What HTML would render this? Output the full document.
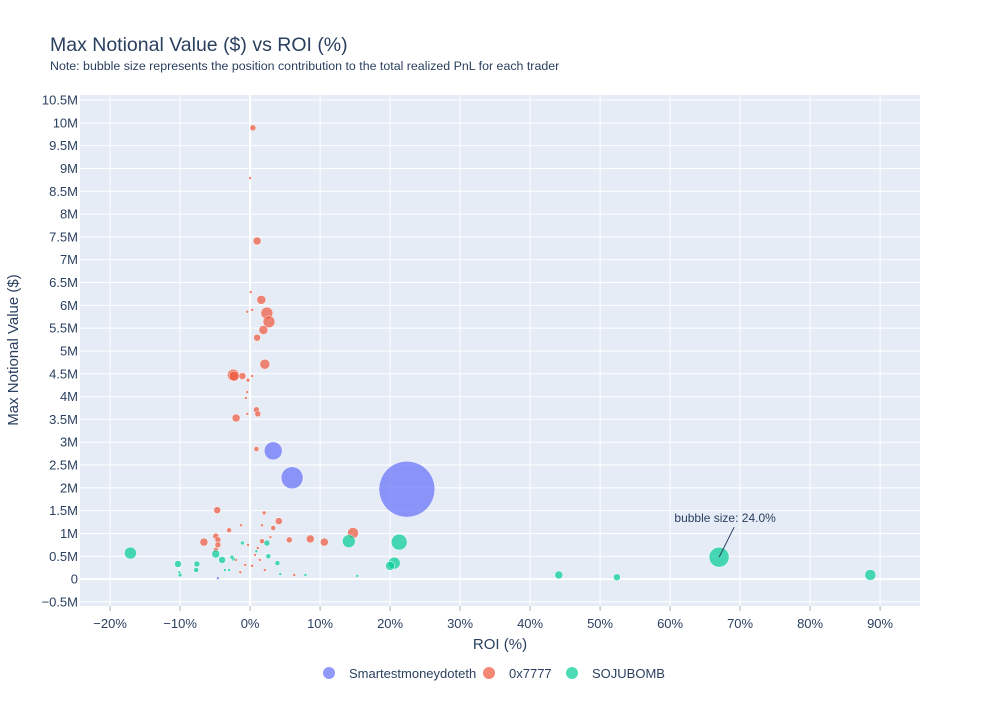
<!DOCTYPE html>
<html><head><meta charset="utf-8"><style>
body{margin:0;background:#fff;font-family:"Liberation Sans",sans-serif}
svg text{font-family:"Liberation Sans",sans-serif;fill:#2a3f5f}
</style></head><body>
<svg id="chart" width="1000" height="700">
<rect x="0" y="0" width="1000" height="700" fill="#fff"/>
<text x="50" y="51" font-size="19.5">Max Notional Value ($) vs ROI (%)</text>
<text x="50" y="70" font-size="12.4">Note: bubble size represents the position contribution to the total realized PnL for each trader</text>
<g id="plot"></g>
</svg>
<script>
const xTicks=[-20,-10,0,10,20,30,40,50,60,70,80,90];
const yTicks=[-0.5,0,0.5,1,1.5,2,2.5,3,3.5,4,4.5,5,5.5,6,6.5,7,7.5,8,8.5,9,9.5,10,10.5];
const seriesNames=["Smartestmoneydoteth","0x7777","SOJUBOMB"];
const seriesColors=["#636efa","#EF553B","#00cc96"];
const blueRoi=[3.3,6.0,22.4,-4.6];
const blueVal=[2.81,2.22,1.97,0.02];
const blueSize=[18,22,56,3];
const redRoi=[0.4,0.0,1.0,1.6,2.4,2.7,1.9,1.0,2.1,-2.4,-2.3,-1.1,-0.3,0.3,-0.4,-0.6,0.9,1.1,-2.0,-0.4,0.9,0.1,-0.4,0.3,-4.7,-3.0,-4.9,-4.6,-6.6,-4.6,4.1,3.3,8.6,10.6,14.7,5.6,2.0,1.7,-1.3,-4.9,0.7,1.4,-0.7,2.1,-1.4,1.1,2.9,-2.0,6.3,-0.3,0.3,1.7];
const redVal=[9.89,8.79,7.41,6.12,5.83,5.64,5.46,5.29,4.71,4.47,4.45,4.45,4.36,4.45,4.10,3.97,3.71,3.62,3.53,3.62,2.85,6.29,5.86,5.90,1.51,1.07,0.94,0.86,0.81,0.75,1.27,1.12,0.88,0.81,1.01,0.86,1.45,0.83,1.18,0.64,0.53,0.42,0.31,0.20,0.15,0.68,0.92,0.42,0.09,0.75,0.29,1.18];
const redSize=[6,3,8,9,12,12,9,7,10,12,10,7,4,3,3,3,6,6,8,3,5,3,3,3,7,5,6,6,8,6,7,5,8,8,11,6,4,5,3,5,3,3,3,3,3,3,3,3,3,3,3,3];
const greenRoi=[-17.1,-10.3,-7.6,-4.9,-4.0,14.1,21.3,20.6,20.0,44.1,52.4,67.0,88.6,-7.7,-10.0,-10.1,-2.4,-1.1,2.4,2.6,3.9,4.3,7.9,-2.6,-3.6,-3.0,0.9,15.3];
const greenVal=[0.57,0.33,0.33,0.55,0.42,0.83,0.81,0.35,0.29,0.09,0.04,0.48,0.09,0.20,0.09,0.15,0.44,0.79,0.79,0.50,0.35,0.11,0.09,0.48,0.20,0.20,0.61,0.07];
const greenSize=[12,7,6,8,7,13,16,12,9,8,7,20,11,5,4,3,4,4,6,5,5,3,3,4,3,3,3,3];

const NS="http://www.w3.org/2000/svg";
const L=80,R=920,T=95,B=606;
const xMin=-24.3,xMax=95.7,yMin=-0.59,yMax=10.61;
const xs=v=>L+(v-xMin)/(xMax-xMin)*(R-L);
const ys=v=>B-(v-yMin)/(yMax-yMin)*(B-T);
const g=document.getElementById('plot');
function mk(t,a,p){const e=document.createElementNS(NS,t);for(const k in a)e.setAttribute(k,a[k]);(p||g).appendChild(e);return e;}
const bg=mk('rect',{x:L,y:T,width:R-L,height:B-T,fill:'#E5ECF6'});


xTicks.forEach(t=>{
  const x=xs(t);
  const l=mk('line',{x1:x,x2:x,y1:T,y2:B,stroke:'#fff','stroke-width':t===0?2:1});
  
  
  mk('line',{x1:x,x2:x,y1:B,y2:B+5,stroke:'#2a3f5f','stroke-opacity':0.4});
  const tx=mk('text',{x:x,y:B+22,'font-size':13,'text-anchor':'middle'});
  tx.textContent=(t<0?'\u2212'+(-t):t)+'%';
  
  
});
yTicks.forEach(t=>{
  const y=ys(t);
  const l=mk('line',{x1:L,x2:R,y1:y,y2:y,stroke:'#fff','stroke-width':t===0?2:1});
  
  
  const tx=mk('text',{x:L-2,y:y+4.5,'font-size':13,'text-anchor':'end'});
  tx.textContent=t===0?'0':(t<0?'\u2212'+(-t):t)+'M';
  
  
});
const xt=mk('text',{x:500,y:649,'font-size':15,'text-anchor':'middle'});xt.textContent='ROI (%)';


const yt=mk('text',{x:18,y:350,'font-size':15,'text-anchor':'middle',transform:'rotate(-90 18 350)'});yt.textContent='Max Notional Value ($)';


const all=[[blueRoi,blueVal,blueSize],[redRoi,redVal,redSize],[greenRoi,greenVal,greenSize]];
all.forEach((s,i)=>{
  s[0].forEach((r,j)=>{
    const c=mk('circle',{cx:xs(r),cy:ys(s[1][j]),r:s[2][j]/2,fill:seriesColors[i],'fill-opacity':0.7,stroke:'#fff','stroke-width':0.5});
    
    
  });
});
const ax=xs(greenRoi[11]),ay=ys(greenVal[11]);
const al=mk('line',{x1:ax,y1:ay,x2:ax+15,y2:ay-30,stroke:'#2a3f5f','stroke-width':1});


const at=mk('text',{x:ax+6,y:ay-35,'font-size':12,'text-anchor':'middle'});at.textContent='bubble size: 24.0%';


const lx=[329,489,572];
seriesNames.forEach((n,i)=>{
  const c=mk('circle',{cx:lx[i],cy:673,r:6,fill:seriesColors[i],'fill-opacity':0.7});
  
  
  const t=mk('text',{x:lx[i]+20,y:678,'font-size':13});t.textContent=n;
  
  
});
</script>
</body></html>
